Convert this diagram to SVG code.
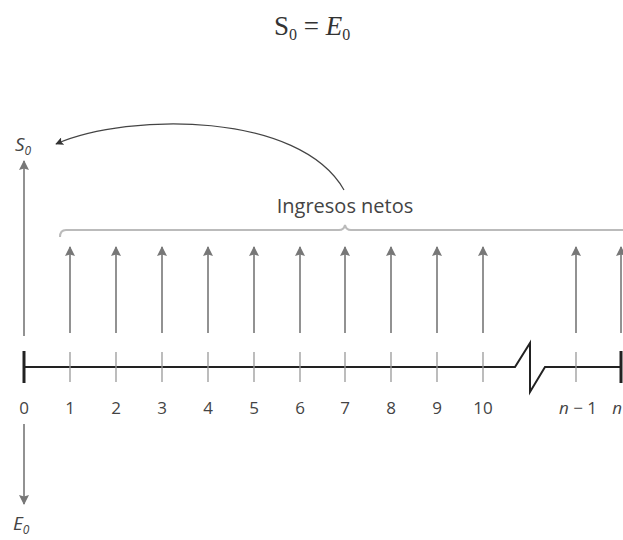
<svg xmlns="http://www.w3.org/2000/svg" width="623" height="540" viewBox="0 0 623 540">
<style>
.lbl{font-family:"Open Sans","Liberation Sans",sans-serif;font-size:17px;fill:#444}
.it{font-style:italic}
.big{font-size:19px}
.sub{font-size:12px}
.ing{font-size:20px}
.up{stroke:#777;stroke-width:1.6;fill:none}
.tick{stroke:#999;stroke-width:1.3}
.axis{stroke:#222;stroke-width:2;fill:none}
.ttl{font-family:"Liberation Serif",serif;font-size:27px;fill:#333}
</style>
<defs>
<marker id="ah" viewBox="0 0 10 10" refX="9" refY="5" markerWidth="13" markerHeight="10" orient="auto" markerUnits="userSpaceOnUse">
<path d="M0,0 L10,5 L0,10 L1.5,5 Z" fill="#777"/>
</marker>
<marker id="ahd" viewBox="0 0 10 10" refX="9" refY="5" markerWidth="10" markerHeight="8" orient="auto" markerUnits="userSpaceOnUse">
<path d="M0,0 L10,5 L0,10 L2,5 Z" fill="#333"/>
</marker>
</defs>
<rect width="623" height="540" fill="#fff"/>
<g id="title">
<text class="ttl" x="274" y="35">S<tspan style="font-size:16px" dy="5">0</tspan><tspan dy="-5"> = </tspan><tspan font-style="italic">E</tspan><tspan style="font-size:16px" dy="5">0</tspan></text>
</g>
<g id="connectors">
<line class="up" x1="24" y1="336" x2="24" y2="161" marker-end="url(#ah)"/>
<line class="up" x1="24" y1="424" x2="24" y2="504" marker-end="url(#ah)"/>
<line class="up" x1="70" y1="333" x2="70" y2="247" marker-end="url(#ah)"/>
<line class="up" x1="116" y1="333" x2="116" y2="247" marker-end="url(#ah)"/>
<line class="up" x1="162" y1="333" x2="162" y2="247" marker-end="url(#ah)"/>
<line class="up" x1="208" y1="333" x2="208" y2="247" marker-end="url(#ah)"/>
<line class="up" x1="254" y1="333" x2="254" y2="247" marker-end="url(#ah)"/>
<line class="up" x1="300" y1="333" x2="300" y2="247" marker-end="url(#ah)"/>
<line class="up" x1="345" y1="333" x2="345" y2="247" marker-end="url(#ah)"/>
<line class="up" x1="391" y1="333" x2="391" y2="247" marker-end="url(#ah)"/>
<line class="up" x1="437" y1="333" x2="437" y2="247" marker-end="url(#ah)"/>
<line class="up" x1="483" y1="333" x2="483" y2="247" marker-end="url(#ah)"/>
<line class="up" x1="576" y1="333" x2="576" y2="247" marker-end="url(#ah)"/>
<line class="up" x1="621" y1="333" x2="621" y2="247" marker-end="url(#ah)"/>
<path d="M344,190 C300,112 130,112 56,144" fill="none" stroke="#444" stroke-width="1.2" marker-end="url(#ahd)"/>
</g>
<g id="brace">
<path d="M60,237 Q60,230 66,230 L339,230 Q344,230 345,225 Q346,230 351,230 L623,230" fill="none" stroke="#bbb" stroke-width="2"/>
</g>
<g id="axis">
<path class="axis" d="M24,367 L515,367 L530,343 L530,392 L545,367 L622,367"/>
<line x1="24" y1="351" x2="24" y2="383" stroke="#222" stroke-width="3"/>
<line x1="621" y1="351" x2="621" y2="383" stroke="#222" stroke-width="3"/>
<line class="tick" x1="70" y1="352" x2="70" y2="382"/>
<line class="tick" x1="116" y1="352" x2="116" y2="382"/>
<line class="tick" x1="162" y1="352" x2="162" y2="382"/>
<line class="tick" x1="208" y1="352" x2="208" y2="382"/>
<line class="tick" x1="254" y1="352" x2="254" y2="382"/>
<line class="tick" x1="300" y1="352" x2="300" y2="382"/>
<line class="tick" x1="345" y1="352" x2="345" y2="382"/>
<line class="tick" x1="391" y1="352" x2="391" y2="382"/>
<line class="tick" x1="437" y1="352" x2="437" y2="382"/>
<line class="tick" x1="483" y1="352" x2="483" y2="382"/>
<line class="tick" x1="576" y1="352" x2="576" y2="382"/>
</g>
<g id="labels" class="lbl" text-anchor="middle">
<text x="24" y="414">0</text>
<text x="70" y="414">1</text>
<text x="116" y="414">2</text>
<text x="162" y="414">3</text>
<text x="208" y="414">4</text>
<text x="254" y="414">5</text>
<text x="300" y="414">6</text>
<text x="345" y="414">7</text>
<text x="391" y="414">8</text>
<text x="437" y="414">9</text>
<text x="483" y="414">10</text>
<text x="578" y="414"><tspan class="it">n</tspan> − 1</text>
<text x="622" y="414" class="it" text-anchor="end">n</text>
</g>
<g id="S0">
<text class="lbl it big" x="15" y="151">S<tspan class="sub" dy="4">0</tspan></text>
</g>
<g id="E0">
<text class="lbl it big" x="13" y="530">E<tspan class="sub" dy="4">0</tspan></text>
</g>
<g id="ingresos">
<text class="lbl ing" x="345" y="213" text-anchor="middle">Ingresos netos</text>
</g>
</svg>
